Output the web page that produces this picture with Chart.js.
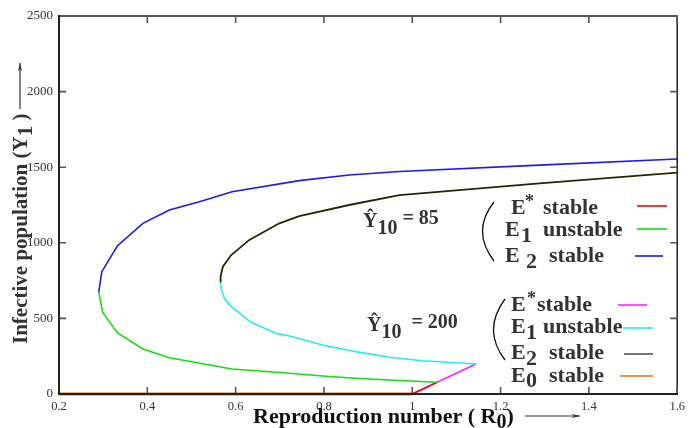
<!DOCTYPE html>
<html>
<head>
<meta charset="utf-8">
<title>Infective population vs reproduction number</title>
<script src="https://cdn.jsdelivr.net/npm/chart.js@4.4.1/dist/chart.umd.min.js"></script>
<style>
  html, body { margin: 0; padding: 0; background: #fff; }
  #wrap { width: 690px; height: 428px; }
</style>
</head>
<body>
<div id="wrap"><canvas id="bif" width="690" height="428"></canvas></div>
<script>
// axis ranges
var R0_MIN = 0.2, R0_MAX = 1.6, R0_STEP = 0.2;
var Y1_MIN = 0, Y1_MAX = 2500, Y1_STEP = 500;

// Y10 = 85 : E2 stable branch (upper) and E1 unstable branch (lower)
var r85Upper = [0.290, 0.297, 0.332, 0.390, 0.450, 0.518, 0.592, 0.744, 0.857, 0.971, 1.288, 1.600];
var y85Upper = [676, 809, 979, 1129, 1217, 1272, 1338, 1411, 1448, 1472, 1514, 1554];
var r85Lower = [0.290, 0.299, 0.332, 0.390, 0.450, 0.592, 0.722, 0.797, 0.872, 0.948, 1.056];
var y85Lower = [676, 540, 406, 298, 240, 165, 137, 119, 104, 93, 78];
// E* stable for Y10 = 85
var r85Star = [1.000, 1.056];
var y85Star = [0, 77];

// Y10 = 200 : E2 stable (upper), E1 unstable (lower), E* stable
var r200Upper = [0.565, 0.566, 0.571, 0.590, 0.631, 0.699, 0.744, 0.857, 0.971, 1.288, 1.600];
var y200Upper = [743, 776, 842, 919, 1019, 1129, 1177, 1250, 1316, 1393, 1464];
var r200Lower = [0.565, 0.568, 0.575, 0.590, 0.635, 0.692, 0.722, 0.797, 0.872, 0.948, 1.023, 1.144];
var y200Lower = [743, 690, 630, 578, 474, 401, 384, 324, 280, 243, 220, 198];
var r200Star = [1.000, 1.144];
var y200Star = [0, 198];

// disease free equilibrium E0 (stable for R0 < 1)
var rE0 = [0.2, 1.0];
var yE0 = [0, 0];

var COL = {
    red: '#ff0000',
    green: '#11e011',
    blue: '#1a1aff',
    magenta: '#ff22ff',
    cyan: '#22eef0',
    black: '#262600',
    gray: '#555555',
    orange: '#d9731a'
};

var SERIF = '"Liberation Serif", "Times New Roman", serif';

function pts(xs, ys) {
    return xs.map(function (x, i) { return { x: x, y: ys[i] }; });
}

function line(data, color, width) {
    return {
        data: data,
        showLine: true,
        borderColor: color,
        backgroundColor: color,
        borderWidth: width || 1.6,
        pointRadius: 0,
        tension: 0,
        clip: false
    };
}

/* inward tick marks on all four sides + top/right frame */
var frameTicks = {
    id: 'frameTicks',
    afterDatasetsDraw: function (chart) {
        var ctx = chart.ctx, a = chart.chartArea;
        var sx = chart.scales.x, sy = chart.scales.y;
        ctx.save();
        ctx.strokeStyle = '#222';
        ctx.lineWidth = 1.5;
        ctx.beginPath();
        ctx.moveTo(a.left, a.top); ctx.lineTo(a.right, a.top); ctx.lineTo(a.right, a.bottom);
        ctx.stroke();
        ctx.strokeStyle = '#555';
        ctx.lineWidth = 1.6;
        ctx.beginPath();
        sx.ticks.forEach(function (t) {
            var px = sx.getPixelForValue(t.value);
            ctx.moveTo(px, a.bottom); ctx.lineTo(px, a.bottom - 7);
            ctx.moveTo(px, a.top); ctx.lineTo(px, a.top + 7);
        });
        sy.ticks.forEach(function (t) {
            var py = sy.getPixelForValue(t.value);
            ctx.moveTo(a.left, py); ctx.lineTo(a.left + 7, py);
            ctx.moveTo(a.right, py); ctx.lineTo(a.right - 7, py);
        });
        ctx.stroke();
        ctx.restore();
    }
};

function put(ctx, s, x, y, size) {
    ctx.font = 'bold ' + size + 'px ' + SERIF;
    ctx.fillText(s, x, y);
    return x + ctx.measureText(s).width;
}

function sample(ctx, x1, x2, y, color) {
    ctx.strokeStyle = color;
    ctx.lineWidth = 1.6;
    ctx.beginPath();
    ctx.moveTo(x1, y); ctx.lineTo(x2, y);
    ctx.stroke();
}

function brace(ctx, x0, y0, cx, cy, x1, y1) {
    ctx.strokeStyle = '#111';
    ctx.lineWidth = 1.3;
    ctx.beginPath();
    ctx.moveTo(x0, y0);
    ctx.quadraticCurveTo(cx, cy, x1, y1);
    ctx.stroke();
}

function arrow(ctx, x1, y1, x2, y2) {
    var ang = Math.atan2(y2 - y1, x2 - x1), h = 9;
    ctx.strokeStyle = '#333';
    ctx.fillStyle = '#333';
    ctx.lineWidth = 1.2;
    ctx.beginPath();
    ctx.moveTo(x1, y1); ctx.lineTo(x2, y2);
    ctx.stroke();
    ctx.beginPath();
    ctx.moveTo(x2, y2);
    ctx.lineTo(x2 - h * Math.cos(ang - 0.25), y2 - h * Math.sin(ang - 0.25));
    ctx.lineTo(x2 - h * 0.6 * Math.cos(ang), y2 - h * 0.6 * Math.sin(ang));
    ctx.lineTo(x2 - h * Math.cos(ang + 0.25), y2 - h * Math.sin(ang + 0.25));
    ctx.closePath();
    ctx.fill();
}

/* axis titles, the two Y10 labels and the hand-made legends */
var notes = {
    id: 'notes',
    afterDraw: function (chart) {
        var ctx = chart.ctx, x;
        ctx.save();
        ctx.fillStyle = '#111';
        ctx.textBaseline = 'alphabetic';
        ctx.textAlign = 'left';

        // x title
        x = put(ctx, 'Reproduction number ( R', 253, 423, 22);
        x = put(ctx, '0', x, 428, 20);
        put(ctx, ')', x, 423, 22);
        arrow(ctx, 525, 416, 580, 416);

        // y title (rotated)
        ctx.save();
        ctx.translate(27, 344);
        ctx.rotate(-Math.PI / 2);
        x = put(ctx, 'Infective population (Y', 0, 0, 21);
        x = put(ctx, '1', x, 5, 21);
        put(ctx, ' )', x, 0, 21);
        ctx.restore();
        arrow(ctx, 20, 109, 20, 63);

        // Y10 = 85
        x = put(ctx, '\u0176', 363, 227, 20);
        x = put(ctx, '10', x, 234, 20);
        put(ctx, ' = 85', x, 224, 20);
        brace(ctx, 494, 202, 471, 231, 494, 261);
        put(ctx, 'E', 511, 214, 22);
        put(ctx, '*', 525, 207, 18);
        put(ctx, 'stable', 543, 214, 22);
        put(ctx, 'E', 505, 236, 22);
        put(ctx, '1', 521, 242, 22);
        put(ctx, 'unstable', 543, 236, 22);
        put(ctx, 'E', 505, 262, 22);
        put(ctx, '2', 526, 268, 22);
        put(ctx, 'stable', 549, 262, 22);
        sample(ctx, 637, 667, 206, COL.red);
        sample(ctx, 637, 667, 229, COL.green);
        sample(ctx, 635, 663, 256, COL.blue);

        // Y10 = 200
        x = put(ctx, '\u0176', 367, 331, 20);
        x = put(ctx, '10', x, 338, 20);
        put(ctx, '  = 200', x, 328, 20);
        brace(ctx, 505, 299, 482, 330, 505, 360);
        put(ctx, 'E', 511, 311, 22);
        put(ctx, '*', 527, 304, 18);
        put(ctx, 'stable', 537, 311, 22);
        put(ctx, 'E', 511, 333, 22);
        put(ctx, '1', 526, 339, 22);
        put(ctx, 'unstable', 543, 333, 22);
        put(ctx, 'E', 511, 359, 22);
        put(ctx, '2', 526, 365, 22);
        put(ctx, 'stable', 549, 359, 22);
        put(ctx, 'E', 511, 382, 22);
        put(ctx, '0', 526, 387, 22);
        put(ctx, 'stable', 549, 382, 22);
        sample(ctx, 618, 647, 305, COL.magenta);
        sample(ctx, 623, 653, 328, COL.cyan);
        sample(ctx, 624, 653, 354, COL.gray);
        sample(ctx, 620, 653, 376, COL.orange);

        ctx.restore();
    }
};

new Chart(document.getElementById('bif'), {
    type: 'scatter',
    data: {
        datasets: [
            line(pts(r85Upper, y85Upper), COL.blue),
            line(pts(r85Lower, y85Lower), COL.green),
            line(pts(r85Star, y85Star), COL.red),
            line(pts(r200Upper, y200Upper), COL.black, 1.8),
            line(pts(r200Lower, y200Lower), COL.cyan),
            line(pts(r200Star, y200Star), COL.magenta),
            line(pts(rE0, yE0), COL.orange, 3)
        ]
    },
    options: {
        responsive: false,
        animation: false,
        layout: { padding: { top: 16, right: 11, left: 0, bottom: 0 } },
        plugins: {
            legend: { display: false },
            tooltip: { enabled: false }
        },
        scales: {
            x: {
                type: 'linear',
                min: R0_MIN, max: R0_MAX,
                afterFit: function (s) { s.height = 34; },
                grid: { display: false, drawTicks: false },
                border: { display: true, color: '#222', width: 2, z: 1 },
                ticks: {
                    stepSize: R0_STEP,
                    padding: 5,
                    color: '#333',
                    font: { family: SERIF, size: 12.5 },
                    maxRotation: 0,
                    callback: function (v) { return String(Math.round(v * 10) / 10); }
                }
            },
            y: {
                type: 'linear',
                min: Y1_MIN, max: Y1_MAX,
                afterFit: function (s) { s.width = 59; },
                grid: { display: false, drawTicks: false },
                border: { display: true, color: '#222', width: 2, z: 1 },
                ticks: {
                    stepSize: Y1_STEP,
                    padding: 6,
                    color: '#333',
                    font: { family: SERIF, size: 13 },
                    callback: function (v) { return String(v); }
                }
            }
        }
    },
    plugins: [frameTicks, notes]
});
</script>
</body>
</html>
